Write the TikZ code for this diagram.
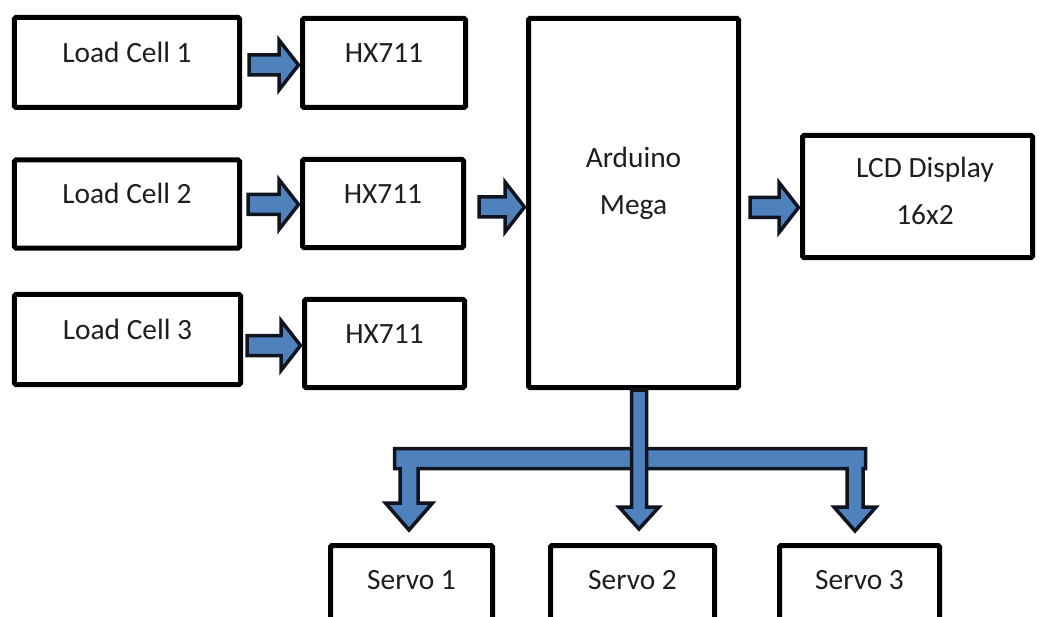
\documentclass[tikz,border=0pt]{standalone}
\usepackage{fontspec}
\setmainfont{Carlito}
\usetikzlibrary{calc}
\definecolor{arrowblue}{RGB}{79,129,189}
\definecolor{arrowedge}{RGB}{15,20,30}
\definecolor{txtcol}{RGB}{30,30,30}
\tikzset{
  box/.style={draw=black, line width=5bp, rounded corners=1.5bp, fill=white,
    inner sep=0pt, text height=12bp, text depth=12bp, text=txtcol,
    font=\fontsize{29.5}{34}\selectfont},
  boxtext/.style={inner sep=0pt, anchor=base, text=txtcol, font=\fontsize{29.5}{34}\selectfont},
  barrow/.style={fill=arrowblue, draw=arrowedge, line width=3.5bp, line join=miter}
}
\newcommand\harrowdraw[2]{%
  \draw[barrow] let \p1=#1, \p2=#2 in
    (\x1,\y2+10bp) -- (\x2-21bp,\y2+10bp) -- (\x2-21bp,\y2+25bp) -- (\x2-1.5bp,\y2)
    -- (\x2-21bp,\y2-25bp) -- (\x2-21bp,\y2-10bp) -- (\x1,\y2-10bp) -- cycle;}
\begin{document}
\begin{tikzpicture}[x=1bp,y=-1bp]
\clip (0,0) rectangle (1040,617);
\fill[white] (0,0) rectangle (1040,617);
% boxes
\node[box, minimum width=225bp, minimum height=90bp] (lc1) at (127,62.5) {Load Cell 1};
\node[box, minimum width=225bp, minimum height=88bp] (lc2) at (127,204) {Load Cell 2};
\node[box, minimum width=226bp, minimum height=90bp] (lc3) at (127.5,339.5) {Load Cell 3};
\node[box, minimum width=163bp, minimum height=89bp] (hx1) at (384,63) {HX711};
\node[box, minimum width=161bp, minimum height=88bp] (hx2) at (383,203.5) {HX711};
\node[box, minimum width=160bp, minimum height=88bp] (hx3) at (384.5,343.5) {HX711};
\node[box, minimum width=210bp, minimum height=369bp] (ard) at (633.5,203) {};
\node[boxtext] (ardA) at ($(ard.north)+(0,152)$) {Arduino};
\node[boxtext] (ardB) at ($(ard.north)+(0,199)$) {Mega};
\node[box, minimum width=230bp, minimum height=122bp] (lcd) at (917.5,196.5) {};
\node[boxtext] (lcdA) at ($(lcd.north)+(7.5,45)$) {LCD Display};
\node[boxtext] (lcdB) at ($(lcd.north)+(7.5,92)$) {16x2};
\node[box, minimum width=162bp, minimum height=88bp] (sv1) at (411.5,589.5) {Servo 1};
\node[box, minimum width=164bp, minimum height=88bp] (sv2) at (632.5,589.5) {Servo 2};
\node[box, minimum width=160bp, minimum height=88bp] (sv3) at (859.5,589.5) {Servo 3};
% horizontal block arrows
\harrowdraw{($(lc1.east)+(7,0)$)}{($(hx1.west)+(0,2)$)}
\harrowdraw{($(lc2.east)+(6,0)$)}{($(hx2.west)+(0,1)$)}
\harrowdraw{($(lc3.east)+(4,0)$)}{($(hx3.west)+(0,2)$)}
\harrowdraw{($(hx2.east)+(13,0)$)}{($(ard.west)+(0,4)$)}
\harrowdraw{($(ard.east)+(9,0)$)}{($(lcd.west)+(0,11)$)}
% distribution bar to servos
\coordinate (jn) at ($(ard.south)+(5.5,68.5)$);
\draw[barrow] let \p1=(jn), \p2=($(sv1.north)+(-2.5,-13)$) in
  (\x1,\y1+10bp) -- (\x2-14.5bp,\y1+10bp) -- (\x2-14.5bp,\y1-10bp) -- (\x2-9bp,\y1-10bp)
  -- (\x2-9bp,\y2+27bp) -- (\x2-23.5bp,\y2+27bp) -- (\x2,\y2) -- (\x2+23.5bp,\y2+27bp)
  -- (\x2+9bp,\y2+27bp) -- (\x2+9bp,\y1-10bp) -- (\x1,\y1-10bp) -- cycle;
\draw[barrow] let \p1=(jn), \p2=($(sv3.north)+(-4.5,-12)$) in
  (\x1,\y1+10bp) -- (\x2+10.5bp,\y1+10bp) -- (\x2+10.5bp,\y1-10bp) -- (\x2+8bp,\y1-10bp)
  -- (\x2+8bp,\y2+24bp) -- (\x2+21bp,\y2+24bp) -- (\x2,\y2) -- (\x2-21bp,\y2+24bp)
  -- (\x2-8bp,\y2+24bp) -- (\x2-8bp,\y1-10bp) -- (\x1,\y1-10bp) -- cycle;
\draw[barrow] let \p1=($(ard.south)+(5.5,0)$), \p2=($(sv2.north)+(6.5,-14)$) in
  (\x1-7.5bp,\y1) -- (\x1-7.5bp,\y2+22bp) -- (\x1-20bp,\y2+22bp) -- (\x1,\y2)
  -- (\x1+20bp,\y2+22bp) -- (\x1+7.5bp,\y2+22bp) -- (\x1+7.5bp,\y1) -- cycle;
\end{tikzpicture}
\end{document}
